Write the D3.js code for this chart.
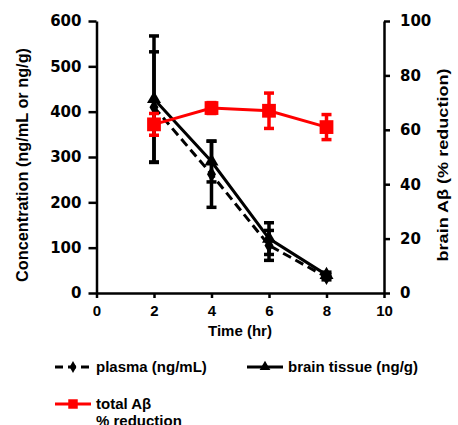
<!DOCTYPE html>
<html>
<head>
<meta charset="utf-8">
<script src="https://cdn.jsdelivr.net/npm/d3@7"></script>
<style>
  body { margin: 0; background: #fff; }
  text { font-family: "Liberation Sans", Arial, sans-serif; font-weight: bold; fill: #000; }
</style>
</head>
<body>
<script>
// data
var times = [2, 4, 6, 8];
var plasma = [410, 262, 105, 35];
var plasmaErr = [122, 73, 33, 6];
var brain = [428, 290, 120, 40];
var brainErr = [139, 45, 35, 6];
var reduction = [62, 68, 67, 61];
var reductionErr = [4, 2, 6.5, 4.6];
var xTicks = [0, 2, 4, 6, 8, 10];
var yLeftTicks = [0, 100, 200, 300, 400, 500, 600];
var yRightTicks = [0, 20, 40, 60, 80, 100];

var width = 458, height = 425;
var svg = d3.select("body").append("svg")
  .attr("width", width)
  .attr("height", height);

var x = d3.scaleLinear().domain([0, 10]).range([96.5, 384]);
var yL = d3.scaleLinear().domain([0, 600]).range([293, 21]);
var yR = d3.scaleLinear().domain([0, 100]).range([293, 21]);

function styleAxis(g, font) {
  g.selectAll("path").attr("stroke", "#000").attr("stroke-width", 2.5);
  g.selectAll("line").attr("stroke", "#000").attr("stroke-width", 2.5);
  g.selectAll("text").style("font-size", "15px").style("font-family", font).style("font-weight", "bold");
}

svg.append("g")
  .attr("transform", "translate(0,293)")
  .call(d3.axisBottom(x).tickValues(xTicks).tickSize(5).tickSizeOuter(0).tickPadding(7))
  .call(styleAxis, "Liberation Sans, Arial, sans-serif");

svg.append("g")
  .attr("transform", "translate(96.5,0)")
  .call(d3.axisLeft(yL).tickValues(yLeftTicks).tickSize(8).tickSizeOuter(0).tickPadding(7))
  .call(styleAxis, "DejaVu Sans, sans-serif");

svg.append("g")
  .attr("transform", "translate(384,0)")
  .call(d3.axisRight(yR).tickValues(yRightTicks).tickSize(6).tickSizeOuter(0).tickPadding(10))
  .call(styleAxis, "DejaVu Sans, sans-serif");

// axis titles
svg.append("text")
  .attr("transform", "translate(28,165) rotate(-90)")
  .attr("text-anchor", "middle")
  .attr("textLength", 234)
  .attr("lengthAdjust", "spacingAndGlyphs")
  .style("font-size", "16px")
  .text("Concentration (ng/mL or ng/g)");

svg.append("text")
  .attr("transform", "translate(448,165) rotate(-90)")
  .attr("text-anchor", "middle")
  .attr("textLength", 193)
  .attr("lengthAdjust", "spacingAndGlyphs")
  .style("font-size", "15.5px")
  .text("brain A\u03b2 (% reduction)");

svg.append("text")
  .attr("x", 240).attr("y", 336)
  .attr("text-anchor", "middle")
  .style("font-size", "15px")
  .text("Time (hr)");

// error bars
function errorBars(vals, errs, y, color) {
  var g = svg.append("g").attr("stroke", color).attr("stroke-width", 3.5);
  times.forEach(function (t, i) {
    var cx = x(t), hi = y(vals[i] + errs[i]), lo = y(vals[i] - errs[i]);
    g.append("line").attr("x1", cx).attr("x2", cx).attr("y1", hi).attr("y2", lo);
    g.append("line").attr("x1", cx - 5).attr("x2", cx + 5).attr("y1", hi).attr("y2", hi);
    g.append("line").attr("x1", cx - 5).attr("x2", cx + 5).attr("y1", lo).attr("y2", lo);
  });
}

errorBars(plasma, plasmaErr, yL, "#000");
errorBars(brain, brainErr, yL, "#000");

var lineL = d3.line().x(function (d, i) { return x(times[i]); }).y(function (d) { return yL(d); });
var lineR = d3.line().x(function (d, i) { return x(times[i]); }).y(function (d) { return yR(d); });

svg.append("path").attr("d", lineL(plasma))
  .attr("fill", "none").attr("stroke", "#000").attr("stroke-width", 3)
  .attr("stroke-dasharray", "9,5");
svg.append("path").attr("d", lineL(brain))
  .attr("fill", "none").attr("stroke", "#000").attr("stroke-width", 3);

var diamond = d3.symbol().type(d3.symbolDiamond).size(70);
var triangle = d3.symbol().type(d3.symbolTriangle).size(85);
var square = d3.symbol().type(d3.symbolSquare).size(190);

svg.selectAll(".pl").data(plasma).enter().append("path")
  .attr("d", diamond)
  .attr("transform", function (d, i) { return "translate(" + x(times[i]) + "," + yL(d) + ")"; })
  .attr("fill", "#000");
svg.selectAll(".br").data(brain).enter().append("path")
  .attr("d", triangle)
  .attr("transform", function (d, i) { return "translate(" + x(times[i]) + "," + yL(d) + ")"; })
  .attr("fill", "#000");

// red series on top
errorBars(reduction, reductionErr, yR, "#f00");
svg.append("path").attr("d", lineR(reduction))
  .attr("fill", "none").attr("stroke", "#f00").attr("stroke-width", 3);
svg.selectAll(".rd").data(reduction).enter().append("path")
  .attr("d", square)
  .attr("transform", function (d, i) { return "translate(" + x(times[i]) + "," + yR(d) + ")"; })
  .attr("fill", "#f00");

// legend
var leg = svg.append("g");
function legendItem(lx, ly, label, opts) {
  var l = leg.append("line").attr("x1", lx).attr("x2", lx + 36).attr("y1", ly).attr("y2", ly)
    .attr("stroke", opts.color).attr("stroke-width", 3);
  if (opts.dash) l.attr("stroke-dasharray", opts.dash);
  leg.append("path").attr("d", opts.sym)
    .attr("transform", "translate(" + (lx + 18) + "," + ly + ")")
    .attr("fill", opts.color);
  var t = leg.append("text").attr("x", lx + 41).attr("y", ly + 5).style("font-size", "15px");
  label.forEach(function (s, i) {
    t.append("tspan").attr("x", lx + 41).attr("dy", i === 0 ? 0 : 17).text(s);
  });
}
legendItem(55, 367, ["plasma (ng/mL)"], { color: "#000", dash: "8,5", sym: d3.symbol().type(d3.symbolDiamond).size(40) });
legendItem(247, 367, ["brain tissue (ng/g)"], { color: "#000", sym: d3.symbol().type(d3.symbolTriangle).size(50) });
legendItem(55, 404, ["total A\u03b2", "% reduction"], { color: "#f00", sym: d3.symbol().type(d3.symbolSquare).size(90) });
</script>
</body>
</html>
